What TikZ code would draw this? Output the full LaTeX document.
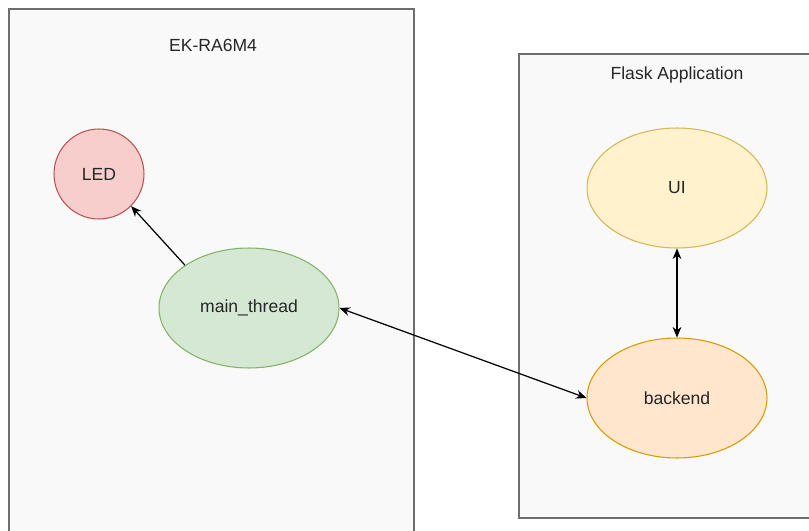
\documentclass[tikz,border=0pt]{standalone}
\usepackage{fontspec}
\setmainfont{Liberation Sans}
\usetikzlibrary{positioning, arrows.meta, shapes.geometric}

\definecolor{boxfill}{HTML}{F9F9F9}
\definecolor{boxline}{HTML}{6E6E6E}
\definecolor{ledfill}{HTML}{F8CECC}
\definecolor{ledline}{HTML}{B85450}
\definecolor{mainfill}{HTML}{D5E8D4}
\definecolor{mainline}{HTML}{82B366}
\definecolor{uifill}{HTML}{FFF2CC}
\definecolor{uiline}{HTML}{D6B656}
\definecolor{backfill}{HTML}{FFE6CC}
\definecolor{backline}{HTML}{D79B00}

\begin{document}
\begin{tikzpicture}[> = {Stealth[length = 6pt, width = 5pt]}, x = 0.02 cm, y = -0.02 cm,
	font = \fontsize{10}{12}\selectfont, text = black!85,
	container/.style = {draw = boxline, fill = boxfill, line width = 0.6pt},
	blob/.style = {ellipse, draw = #1line, fill = #1fill, line width = 0.6pt,
		minimum width = 3.6 cm, minimum height = 2.4 cm, inner sep = 0pt},
	link/.style = {line width = 0.7pt, black}]

	% Page frame
	
	\useasboundingbox (0, 0) rectangle (809, 531);
	\clip (0, 0) rectangle (809, 531);
	
	% Containers
	
	\draw [container] (9, 9) rectangle (414, 545);
	\draw [container] (519, 54) rectangle (820, 518);
	
	\node (board) at (213, 45) {EK-RA6M4};
	\node (flask) at (677, 75) {Flask Application};
	
	% Board side
	
	\node [blob = led, circle, minimum size = 1.8 cm] (led) at (99, 174) {LED};
	\node [blob = main] (main) at (249, 308) {main\_thread};
	
	% Flask side
	
	\node [blob = ui] (ui) at (677, 188) {UI};
	\node [blob = back] (backend) at (677, 398) {backend};
	
	% Links
	
	\draw [link, ->] (main.north west) -- (led.south east);
	\draw [link, <->] (main.east) -- (backend.west);
	\draw [link, <->] (ui.south) -- (backend.north);

\end{tikzpicture}
\end{document}
